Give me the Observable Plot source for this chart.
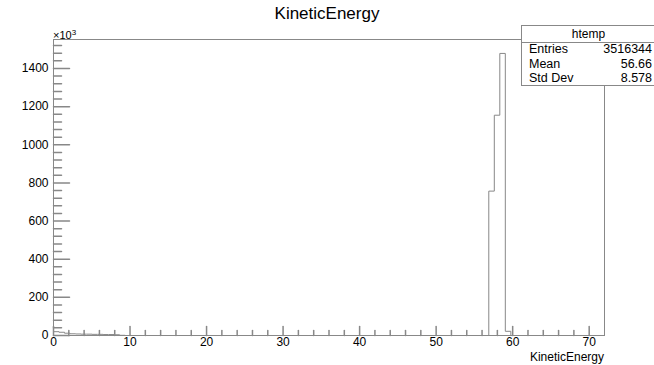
<!DOCTYPE html>
<html>
<head>
<meta charset="utf-8">
<script src="https://cdn.jsdelivr.net/npm/d3@7"></script>
<script src="https://cdn.jsdelivr.net/npm/@observablehq/plot@0.6"></script>
<style>
  html, body { margin: 0; padding: 0; background: #fff; }
  #wrap { position: relative; width: 654px; height: 365px; overflow: hidden;
          font-family: "Liberation Sans", Arial, Helvetica, sans-serif; color: #000; }
  #chart { position: absolute; left: 0; top: 0; }
  .abs { position: absolute; white-space: nowrap; }
</style>
</head>
<body>
<div id="wrap">
  <div id="chart"></div>
  <div class="abs" id="title" style="left:0;width:654px;top:5px;text-align:center;font-size:17px;line-height:17px;"></div>
  <div class="abs" id="mult" style="left:53px;top:27px;font-size:11px;line-height:11px;"></div>
  <div class="abs" id="xtitle" style="right:50px;top:351px;font-size:12px;line-height:12px;"></div>
  <div class="abs" id="stats" style="left:521px;top:25px;width:140px;height:59px;border:1px solid #888;background:#fff;"></div>
</div>
<script>
// ---- data (counts in thousands) ----
const histName = "htemp";
const varName = "KineticEnergy";
const xMin = 0, xMax = 72, nBins = 100;
const counts = [
  20, 17, 12, 9, 8, 7, 7, 6, 6, 5,
  5, 4, 1, 0, 0, 0, 0, 0, 0, 0,
  0, 0, 0, 0, 0, 0, 0, 0, 0, 0,
  0, 0, 0, 0, 0, 0, 0, 0, 0, 0,
  0, 0, 0, 0, 0, 0, 0, 0, 0, 0,
  0, 0, 0, 0, 0, 0, 0, 0, 0, 0,
  0, 0, 0, 0, 0, 0, 0, 0, 0, 0,
  0, 0, 0, 0, 0, 0, 0, 0, 0, 757,
  1155, 1479, 22, 0, 0, 0, 0, 0, 0, 0,
  0, 0, 0, 0, 0, 0, 0, 0, 0, 0
];
const statLabels = ["Entries", "Mean", "Std Dev"];
const statValues = ["3516344", "56.66", "8.578"];
const xMajor = [0, 10, 20, 30, 40, 50, 60, 70];
const xMinor = [2, 4, 6, 8, 12, 14, 16, 18, 22, 24, 26, 28, 32, 34, 36, 38, 42, 44, 46, 48, 52, 54, 56, 58, 62, 64, 66, 68];
const yMajor = [0, 200, 400, 600, 800, 1000, 1200, 1400];
const yMinor = [40, 80, 120, 160, 240, 280, 320, 360, 440, 480, 520, 560, 640, 680, 720, 760,
                840, 880, 920, 960, 1040, 1080, 1120, 1160, 1240, 1280, 1320, 1360, 1440, 1480, 1520];
const yMax = 1552;

// ---- build ----
const binWidth = (xMax - xMin) / nBins;
const steps = counts.map((c, i) => ({x: xMin + i * binWidth, y: c}));
steps.push({x: xMax, y: 0});

const lineColor = "#888";
const tickShape = {draw(ctx, l) { ctx.moveTo(0, 0); ctx.lineTo(0, -l); }};

const chart = Plot.plot({
  width: 654,
  height: 365,
  marginLeft: 53,
  marginRight: 50,
  marginTop: 39,
  marginBottom: 30,
  style: {fontFamily: '"Liberation Sans", Arial, Helvetica, sans-serif', fontSize: "12px", background: "white", color: "#000"},
  x: {domain: [xMin, xMax]},
  y: {domain: [0, yMax]},
  marks: [
    Plot.line(steps, {x: "x", y: "y", curve: "step-after", stroke: lineColor, strokeWidth: 1}),
    Plot.frame({stroke: lineColor, strokeWidth: 1}),
    Plot.vector(yMajor, {y: d => d, frameAnchor: "left", anchor: "start", rotate: 90, length: 16, shape: tickShape, stroke: lineColor}),
    Plot.vector(yMinor, {y: d => d, frameAnchor: "left", anchor: "start", rotate: 90, length: 8, shape: tickShape, stroke: lineColor}),
    Plot.vector(xMajor, {x: d => d, frameAnchor: "bottom", anchor: "start", rotate: 0, length: 9, shape: tickShape, stroke: lineColor}),
    Plot.vector(xMinor, {x: d => d, frameAnchor: "bottom", anchor: "start", rotate: 0, length: 5, shape: tickShape, stroke: lineColor}),
    Plot.axisY({ticks: yMajor, tickFormat: d => String(d), tickSize: 0, tickPadding: 5, label: null, fontSize: 12}),
    Plot.axisX({ticks: xMajor, tickFormat: d => String(d), tickSize: 0, tickPadding: 2, label: null, fontSize: 12})
  ]
});
document.getElementById("chart").appendChild(chart);

document.getElementById("title").textContent = varName;
document.getElementById("xtitle").textContent = varName;
document.getElementById("mult").innerHTML = "&times;10<sup style=\"font-size:8px;vertical-align:4px;\">3</sup>";

const stats = document.getElementById("stats");
const head = document.createElement("div");
head.className = "abs";
head.style.cssText = "left:0;top:1px;width:133px;text-align:center;font-size:12px;line-height:15px;";
head.textContent = histName;
stats.appendChild(head);
const sep = document.createElement("div");
sep.className = "abs";
sep.style.cssText = "left:0;top:16px;width:140px;height:0;border-top:1px solid #888;";
stats.appendChild(sep);
statLabels.forEach((lab, i) => {
  const top = 16 + i * 14.7;
  const l = document.createElement("div");
  l.className = "abs";
  l.style.cssText = `left:7px;top:${top}px;font-size:12.5px;line-height:15px;`;
  l.textContent = lab;
  stats.appendChild(l);
  const v = document.createElement("div");
  v.className = "abs";
  v.style.cssText = `right:10px;top:${top}px;font-size:12.5px;line-height:15px;text-align:right;`;
  v.textContent = statValues[i];
  stats.appendChild(v);
});
</script>
</body>
</html>
